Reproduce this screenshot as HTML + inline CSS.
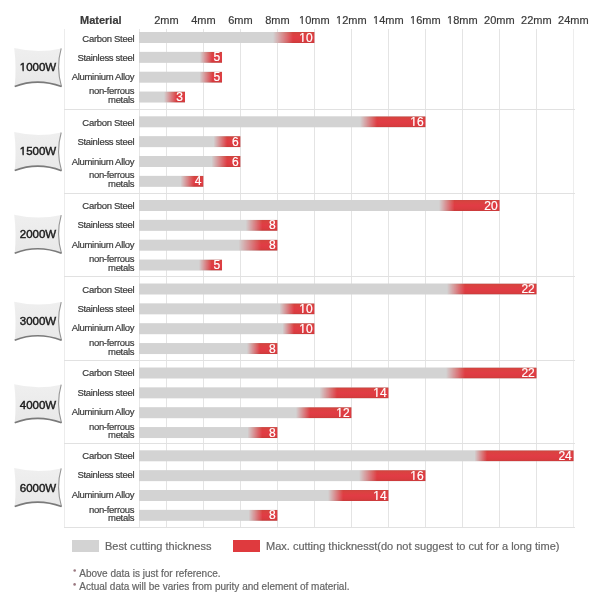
<!DOCTYPE html>
<html><head><meta charset="utf-8"><style>
html,body{margin:0;padding:0;background:#fff;}
body{width:600px;height:600px;position:relative;overflow:hidden;font-family:"Liberation Sans",sans-serif;}
#wrap{position:absolute;left:0;top:0;width:600px;height:600px;filter:blur(0.35px);}
.lay{position:absolute;left:0;top:0;}
#txt{position:absolute;left:0;top:0;width:600px;height:600px;will-change:transform;}
.t{position:absolute;white-space:nowrap;color:#3a3a3a;-webkit-text-stroke:0.2px currentColor;}
.b{font-weight:bold;}
.c{text-align:center;}
.r{text-align:right;}
.v{color:#fff;}
.bt{color:#1c1c1c;-webkit-text-stroke:0.45px #1c1c1c;}
.lg{color:#666;}
.ast{color:#d04a5a;}
</style></head><body><div id="wrap">
<svg class="lay" width="600" height="600" viewBox="0 0 600 600"><defs><linearGradient id="vred" x1="0" y1="0" x2="0" y2="1"><stop offset="0" stop-color="#cc4440"/><stop offset="0.18" stop-color="#da4240"/><stop offset="0.5" stop-color="#e13c45"/><stop offset="0.82" stop-color="#da3c40"/><stop offset="1" stop-color="#c83a3a"/></linearGradient><linearGradient id="bdg" x1="0" y1="0" x2="0" y2="1"><stop offset="0" stop-color="#efefef"/><stop offset="1" stop-color="#e8e8e8"/></linearGradient></defs><rect x="64" y="29" width="1" height="499" fill="#ececec"/>
<rect x="139" y="29" width="1" height="499" fill="#e6e6e6"/>
<rect x="166" y="29" width="1" height="499" fill="#e4e4e4"/>
<rect x="203" y="29" width="1" height="499" fill="#e4e4e4"/>
<rect x="240" y="29" width="1" height="499" fill="#e4e4e4"/>
<rect x="277" y="29" width="1" height="499" fill="#e4e4e4"/>
<rect x="314" y="29" width="1" height="499" fill="#e4e4e4"/>
<rect x="351" y="29" width="1" height="499" fill="#e4e4e4"/>
<rect x="388" y="29" width="1" height="499" fill="#e4e4e4"/>
<rect x="425" y="29" width="1" height="499" fill="#e4e4e4"/>
<rect x="462" y="29" width="1" height="499" fill="#e4e4e4"/>
<rect x="499" y="29" width="1" height="499" fill="#e4e4e4"/>
<rect x="536" y="29" width="1" height="499" fill="#e4e4e4"/>
<rect x="573" y="29" width="1" height="499" fill="#ededed"/>
<rect x="64" y="109" width="511" height="1" fill="#e1e1e1"/>
<linearGradient id="g1" gradientUnits="userSpaceOnUse" x1="273" y1="0" x2="293" y2="0"><stop offset="0" stop-color="#fff" stop-opacity="0"/><stop offset="1" stop-color="#fff" stop-opacity="1"/></linearGradient><mask id="m1" maskUnits="userSpaceOnUse" x="0" y="0" width="600" height="600"><rect x="273" y="32.00" width="41.60" height="11" fill="url(#g1)"/></mask>
<rect x="139" y="32.00" width="175.60" height="11" fill="#d3d3d3"/>
<rect x="273" y="32.00" width="41.60" height="11" fill="url(#vred)" mask="url(#m1)"/>
<linearGradient id="g2" gradientUnits="userSpaceOnUse" x1="200" y1="0" x2="212" y2="0"><stop offset="0" stop-color="#fff" stop-opacity="0"/><stop offset="1" stop-color="#fff" stop-opacity="1"/></linearGradient><mask id="m2" maskUnits="userSpaceOnUse" x="0" y="0" width="600" height="600"><rect x="200" y="51.85" width="22.05" height="11" fill="url(#g2)"/></mask>
<rect x="139" y="51.85" width="83.05" height="11" fill="#d3d3d3"/>
<rect x="200" y="51.85" width="22.05" height="11" fill="url(#vred)" mask="url(#m2)"/>
<linearGradient id="g3" gradientUnits="userSpaceOnUse" x1="199.5" y1="0" x2="212.5" y2="0"><stop offset="0" stop-color="#fff" stop-opacity="0"/><stop offset="1" stop-color="#fff" stop-opacity="1"/></linearGradient><mask id="m3" maskUnits="userSpaceOnUse" x="0" y="0" width="600" height="600"><rect x="199.5" y="71.70" width="22.55" height="11" fill="url(#g3)"/></mask>
<rect x="139" y="71.70" width="83.05" height="11" fill="#d3d3d3"/>
<rect x="199.5" y="71.70" width="22.55" height="11" fill="url(#vred)" mask="url(#m3)"/>
<linearGradient id="g4" gradientUnits="userSpaceOnUse" x1="164" y1="0" x2="176.5" y2="0"><stop offset="0" stop-color="#fff" stop-opacity="0"/><stop offset="1" stop-color="#fff" stop-opacity="1"/></linearGradient><mask id="m4" maskUnits="userSpaceOnUse" x="0" y="0" width="600" height="600"><rect x="164" y="91.55" width="21.03" height="11" fill="url(#g4)"/></mask>
<rect x="139" y="91.55" width="46.03" height="11" fill="#d3d3d3"/>
<rect x="164" y="91.55" width="21.03" height="11" fill="url(#vred)" mask="url(#m4)"/>
<path d="M14.20,48.00 Q37.60,53.60 61.20,48.40 Q55.80,67.50 61.50,86.60 Q37.70,77.60 14.70,86.50 Q16.60,67.20 14.20,48.00 Z" fill="url(#bdg)"/>
<path d="M61.20,48.40 Q55.80,67.50 61.50,86.60" fill="none" stroke="#959595" stroke-width="1.1"/>
<path d="M61.50,86.60 Q37.70,77.60 14.70,86.50" fill="none" stroke="#7a7a7a" stroke-width="1.6"/>
<rect x="64" y="193" width="511" height="1" fill="#e1e1e1"/>
<linearGradient id="g5" gradientUnits="userSpaceOnUse" x1="360" y1="0" x2="377" y2="0"><stop offset="0" stop-color="#fff" stop-opacity="0"/><stop offset="1" stop-color="#fff" stop-opacity="1"/></linearGradient><mask id="m5" maskUnits="userSpaceOnUse" x="0" y="0" width="600" height="600"><rect x="360" y="116.30" width="65.66" height="11" fill="url(#g5)"/></mask>
<rect x="139" y="116.30" width="286.66" height="11" fill="#d3d3d3"/>
<rect x="360" y="116.30" width="65.66" height="11" fill="url(#vred)" mask="url(#m5)"/>
<linearGradient id="g6" gradientUnits="userSpaceOnUse" x1="213.5" y1="0" x2="227" y2="0"><stop offset="0" stop-color="#fff" stop-opacity="0"/><stop offset="1" stop-color="#fff" stop-opacity="1"/></linearGradient><mask id="m6" maskUnits="userSpaceOnUse" x="0" y="0" width="600" height="600"><rect x="213.5" y="136.15" width="27.06" height="11" fill="url(#g6)"/></mask>
<rect x="139" y="136.15" width="101.56" height="11" fill="#d3d3d3"/>
<rect x="213.5" y="136.15" width="27.06" height="11" fill="url(#vred)" mask="url(#m6)"/>
<linearGradient id="g7" gradientUnits="userSpaceOnUse" x1="211.5" y1="0" x2="227" y2="0"><stop offset="0" stop-color="#fff" stop-opacity="0"/><stop offset="1" stop-color="#fff" stop-opacity="1"/></linearGradient><mask id="m7" maskUnits="userSpaceOnUse" x="0" y="0" width="600" height="600"><rect x="211.5" y="156.00" width="29.06" height="11" fill="url(#g7)"/></mask>
<rect x="139" y="156.00" width="101.56" height="11" fill="#d3d3d3"/>
<rect x="211.5" y="156.00" width="29.06" height="11" fill="url(#vred)" mask="url(#m7)"/>
<linearGradient id="g8" gradientUnits="userSpaceOnUse" x1="180.5" y1="0" x2="194" y2="0"><stop offset="0" stop-color="#fff" stop-opacity="0"/><stop offset="1" stop-color="#fff" stop-opacity="1"/></linearGradient><mask id="m8" maskUnits="userSpaceOnUse" x="0" y="0" width="600" height="600"><rect x="180.5" y="175.85" width="23.04" height="11" fill="url(#g8)"/></mask>
<rect x="139" y="175.85" width="64.54" height="11" fill="#d3d3d3"/>
<rect x="180.5" y="175.85" width="23.04" height="11" fill="url(#vred)" mask="url(#m8)"/>
<path d="M14.20,132.10 Q37.60,137.70 61.20,132.50 Q55.80,151.60 61.50,170.70 Q37.70,161.70 14.70,170.60 Q16.60,151.30 14.20,132.10 Z" fill="url(#bdg)"/>
<path d="M61.20,132.50 Q55.80,151.60 61.50,170.70" fill="none" stroke="#959595" stroke-width="1.1"/>
<path d="M61.50,170.70 Q37.70,161.70 14.70,170.60" fill="none" stroke="#7a7a7a" stroke-width="1.6"/>
<rect x="64" y="276" width="511" height="1" fill="#e1e1e1"/>
<linearGradient id="g9" gradientUnits="userSpaceOnUse" x1="439" y1="0" x2="454.5" y2="0"><stop offset="0" stop-color="#fff" stop-opacity="0"/><stop offset="1" stop-color="#fff" stop-opacity="1"/></linearGradient><mask id="m9" maskUnits="userSpaceOnUse" x="0" y="0" width="600" height="600"><rect x="439" y="200.00" width="60.70" height="11" fill="url(#g9)"/></mask>
<rect x="139" y="200.00" width="360.70" height="11" fill="#d3d3d3"/>
<rect x="439" y="200.00" width="60.70" height="11" fill="url(#vred)" mask="url(#m9)"/>
<linearGradient id="g10" gradientUnits="userSpaceOnUse" x1="245.8" y1="0" x2="262.3" y2="0"><stop offset="0" stop-color="#fff" stop-opacity="0"/><stop offset="1" stop-color="#fff" stop-opacity="1"/></linearGradient><mask id="m10" maskUnits="userSpaceOnUse" x="0" y="0" width="600" height="600"><rect x="245.8" y="219.85" width="31.78" height="11" fill="url(#g10)"/></mask>
<rect x="139" y="219.85" width="138.58" height="11" fill="#d3d3d3"/>
<rect x="245.8" y="219.85" width="31.78" height="11" fill="url(#vred)" mask="url(#m10)"/>
<linearGradient id="g11" gradientUnits="userSpaceOnUse" x1="238.5" y1="0" x2="261" y2="0"><stop offset="0" stop-color="#fff" stop-opacity="0"/><stop offset="1" stop-color="#fff" stop-opacity="1"/></linearGradient><mask id="m11" maskUnits="userSpaceOnUse" x="0" y="0" width="600" height="600"><rect x="238.5" y="239.70" width="39.08" height="11" fill="url(#g11)"/></mask>
<rect x="139" y="239.70" width="138.58" height="11" fill="#d3d3d3"/>
<rect x="238.5" y="239.70" width="39.08" height="11" fill="url(#vred)" mask="url(#m11)"/>
<linearGradient id="g12" gradientUnits="userSpaceOnUse" x1="199" y1="0" x2="211.5" y2="0"><stop offset="0" stop-color="#fff" stop-opacity="0"/><stop offset="1" stop-color="#fff" stop-opacity="1"/></linearGradient><mask id="m12" maskUnits="userSpaceOnUse" x="0" y="0" width="600" height="600"><rect x="199" y="259.55" width="23.05" height="11" fill="url(#g12)"/></mask>
<rect x="139" y="259.55" width="83.05" height="11" fill="#d3d3d3"/>
<rect x="199" y="259.55" width="23.05" height="11" fill="url(#vred)" mask="url(#m12)"/>
<path d="M14.20,214.70 Q37.60,220.30 61.20,215.10 Q55.80,234.20 61.50,253.30 Q37.70,244.30 14.70,253.20 Q16.60,233.90 14.20,214.70 Z" fill="url(#bdg)"/>
<path d="M61.20,215.10 Q55.80,234.20 61.50,253.30" fill="none" stroke="#959595" stroke-width="1.1"/>
<path d="M61.50,253.30 Q37.70,244.30 14.70,253.20" fill="none" stroke="#7a7a7a" stroke-width="1.6"/>
<rect x="64" y="360" width="511" height="1" fill="#e1e1e1"/>
<linearGradient id="g13" gradientUnits="userSpaceOnUse" x1="447" y1="0" x2="465" y2="0"><stop offset="0" stop-color="#fff" stop-opacity="0"/><stop offset="1" stop-color="#fff" stop-opacity="1"/></linearGradient><mask id="m13" maskUnits="userSpaceOnUse" x="0" y="0" width="600" height="600"><rect x="447" y="283.50" width="89.72" height="11" fill="url(#g13)"/></mask>
<rect x="139" y="283.50" width="397.72" height="11" fill="#d3d3d3"/>
<rect x="447" y="283.50" width="89.72" height="11" fill="url(#vred)" mask="url(#m13)"/>
<linearGradient id="g14" gradientUnits="userSpaceOnUse" x1="279.5" y1="0" x2="294" y2="0"><stop offset="0" stop-color="#fff" stop-opacity="0"/><stop offset="1" stop-color="#fff" stop-opacity="1"/></linearGradient><mask id="m14" maskUnits="userSpaceOnUse" x="0" y="0" width="600" height="600"><rect x="279.5" y="303.35" width="35.10" height="11" fill="url(#g14)"/></mask>
<rect x="139" y="303.35" width="175.60" height="11" fill="#d3d3d3"/>
<rect x="279.5" y="303.35" width="35.10" height="11" fill="url(#vred)" mask="url(#m14)"/>
<linearGradient id="g15" gradientUnits="userSpaceOnUse" x1="282.5" y1="0" x2="294" y2="0"><stop offset="0" stop-color="#fff" stop-opacity="0"/><stop offset="1" stop-color="#fff" stop-opacity="1"/></linearGradient><mask id="m15" maskUnits="userSpaceOnUse" x="0" y="0" width="600" height="600"><rect x="282.5" y="323.20" width="32.10" height="11" fill="url(#g15)"/></mask>
<rect x="139" y="323.20" width="175.60" height="11" fill="#d3d3d3"/>
<rect x="282.5" y="323.20" width="32.10" height="11" fill="url(#vred)" mask="url(#m15)"/>
<linearGradient id="g16" gradientUnits="userSpaceOnUse" x1="247" y1="0" x2="260" y2="0"><stop offset="0" stop-color="#fff" stop-opacity="0"/><stop offset="1" stop-color="#fff" stop-opacity="1"/></linearGradient><mask id="m16" maskUnits="userSpaceOnUse" x="0" y="0" width="600" height="600"><rect x="247" y="343.05" width="30.58" height="11" fill="url(#g16)"/></mask>
<rect x="139" y="343.05" width="138.58" height="11" fill="#d3d3d3"/>
<rect x="247" y="343.05" width="30.58" height="11" fill="url(#vred)" mask="url(#m16)"/>
<path d="M14.20,301.70 Q37.60,307.30 61.20,302.10 Q55.80,321.20 61.50,340.30 Q37.70,331.30 14.70,340.20 Q16.60,320.90 14.20,301.70 Z" fill="url(#bdg)"/>
<path d="M61.20,302.10 Q55.80,321.20 61.50,340.30" fill="none" stroke="#959595" stroke-width="1.1"/>
<path d="M61.50,340.30 Q37.70,331.30 14.70,340.20" fill="none" stroke="#7a7a7a" stroke-width="1.6"/>
<rect x="64" y="443" width="511" height="1" fill="#e1e1e1"/>
<linearGradient id="g17" gradientUnits="userSpaceOnUse" x1="446" y1="0" x2="465" y2="0"><stop offset="0" stop-color="#fff" stop-opacity="0"/><stop offset="1" stop-color="#fff" stop-opacity="1"/></linearGradient><mask id="m17" maskUnits="userSpaceOnUse" x="0" y="0" width="600" height="600"><rect x="446" y="367.50" width="90.72" height="11" fill="url(#g17)"/></mask>
<rect x="139" y="367.50" width="397.72" height="11" fill="#d3d3d3"/>
<rect x="446" y="367.50" width="90.72" height="11" fill="url(#vred)" mask="url(#m17)"/>
<linearGradient id="g18" gradientUnits="userSpaceOnUse" x1="319.5" y1="0" x2="337" y2="0"><stop offset="0" stop-color="#fff" stop-opacity="0"/><stop offset="1" stop-color="#fff" stop-opacity="1"/></linearGradient><mask id="m18" maskUnits="userSpaceOnUse" x="0" y="0" width="600" height="600"><rect x="319.5" y="387.35" width="69.14" height="11" fill="url(#g18)"/></mask>
<rect x="139" y="387.35" width="249.64" height="11" fill="#d3d3d3"/>
<rect x="319.5" y="387.35" width="69.14" height="11" fill="url(#vred)" mask="url(#m18)"/>
<linearGradient id="g19" gradientUnits="userSpaceOnUse" x1="296" y1="0" x2="310" y2="0"><stop offset="0" stop-color="#fff" stop-opacity="0"/><stop offset="1" stop-color="#fff" stop-opacity="1"/></linearGradient><mask id="m19" maskUnits="userSpaceOnUse" x="0" y="0" width="600" height="600"><rect x="296" y="407.20" width="55.62" height="11" fill="url(#g19)"/></mask>
<rect x="139" y="407.20" width="212.62" height="11" fill="#d3d3d3"/>
<rect x="296" y="407.20" width="55.62" height="11" fill="url(#vred)" mask="url(#m19)"/>
<linearGradient id="g20" gradientUnits="userSpaceOnUse" x1="247.5" y1="0" x2="262" y2="0"><stop offset="0" stop-color="#fff" stop-opacity="0"/><stop offset="1" stop-color="#fff" stop-opacity="1"/></linearGradient><mask id="m20" maskUnits="userSpaceOnUse" x="0" y="0" width="600" height="600"><rect x="247.5" y="427.05" width="30.08" height="11" fill="url(#g20)"/></mask>
<rect x="139" y="427.05" width="138.58" height="11" fill="#d3d3d3"/>
<rect x="247.5" y="427.05" width="30.08" height="11" fill="url(#vred)" mask="url(#m20)"/>
<path d="M14.20,384.25 Q37.60,389.85 61.20,384.65 Q55.80,403.75 61.50,422.85 Q37.70,413.85 14.70,422.75 Q16.60,403.45 14.20,384.25 Z" fill="url(#bdg)"/>
<path d="M61.20,384.65 Q55.80,403.75 61.50,422.85" fill="none" stroke="#959595" stroke-width="1.1"/>
<path d="M61.50,422.85 Q37.70,413.85 14.70,422.75" fill="none" stroke="#7a7a7a" stroke-width="1.6"/>
<rect x="64" y="527" width="511" height="1" fill="#e1e1e1"/>
<linearGradient id="g21" gradientUnits="userSpaceOnUse" x1="474.5" y1="0" x2="487" y2="0"><stop offset="0" stop-color="#fff" stop-opacity="0"/><stop offset="1" stop-color="#fff" stop-opacity="1"/></linearGradient><mask id="m21" maskUnits="userSpaceOnUse" x="0" y="0" width="600" height="600"><rect x="474.5" y="450.30" width="99.24" height="11" fill="url(#g21)"/></mask>
<rect x="139" y="450.30" width="434.74" height="11" fill="#d3d3d3"/>
<rect x="474.5" y="450.30" width="99.24" height="11" fill="url(#vred)" mask="url(#m21)"/>
<linearGradient id="g22" gradientUnits="userSpaceOnUse" x1="359" y1="0" x2="377" y2="0"><stop offset="0" stop-color="#fff" stop-opacity="0"/><stop offset="1" stop-color="#fff" stop-opacity="1"/></linearGradient><mask id="m22" maskUnits="userSpaceOnUse" x="0" y="0" width="600" height="600"><rect x="359" y="470.15" width="66.66" height="11" fill="url(#g22)"/></mask>
<rect x="139" y="470.15" width="286.66" height="11" fill="#d3d3d3"/>
<rect x="359" y="470.15" width="66.66" height="11" fill="url(#vred)" mask="url(#m22)"/>
<linearGradient id="g23" gradientUnits="userSpaceOnUse" x1="328" y1="0" x2="343" y2="0"><stop offset="0" stop-color="#fff" stop-opacity="0"/><stop offset="1" stop-color="#fff" stop-opacity="1"/></linearGradient><mask id="m23" maskUnits="userSpaceOnUse" x="0" y="0" width="600" height="600"><rect x="328" y="490.00" width="60.64" height="11" fill="url(#g23)"/></mask>
<rect x="139" y="490.00" width="249.64" height="11" fill="#d3d3d3"/>
<rect x="328" y="490.00" width="60.64" height="11" fill="url(#vred)" mask="url(#m23)"/>
<linearGradient id="g24" gradientUnits="userSpaceOnUse" x1="248.5" y1="0" x2="262.5" y2="0"><stop offset="0" stop-color="#fff" stop-opacity="0"/><stop offset="1" stop-color="#fff" stop-opacity="1"/></linearGradient><mask id="m24" maskUnits="userSpaceOnUse" x="0" y="0" width="600" height="600"><rect x="248.5" y="509.85" width="29.08" height="11" fill="url(#g24)"/></mask>
<rect x="139" y="509.85" width="138.58" height="11" fill="#d3d3d3"/>
<rect x="248.5" y="509.85" width="29.08" height="11" fill="url(#vred)" mask="url(#m24)"/>
<path d="M14.20,468.00 Q37.60,473.60 61.20,468.40 Q55.80,487.50 61.50,506.60 Q37.70,497.60 14.70,506.50 Q16.60,487.20 14.20,468.00 Z" fill="url(#bdg)"/>
<path d="M61.20,468.40 Q55.80,487.50 61.50,506.60" fill="none" stroke="#959595" stroke-width="1.1"/>
<path d="M61.50,506.60 Q37.70,497.60 14.70,506.50" fill="none" stroke="#7a7a7a" stroke-width="1.6"/>
<rect x="72" y="540" width="27" height="12" fill="#d3d3d3"/>
<rect x="233" y="540" width="27" height="12" fill="#df3a3e"/>
<ellipse cx="74.7" cy="570.5" rx="1.3" ry="1.2" fill="#9a7880"/>
<ellipse cx="74.6" cy="584.4" rx="1.3" ry="1.3" fill="#9a7880"/></svg>
<div id="txt">
<div class="t b" style="left:80px;top:15px;font-size:11px;line-height:11px">Material</div>
<div class="t c" style="left:126.40px;width:80px;top:15px;font-size:11px;line-height:11px">2mm</div>
<div class="t c" style="left:163.40px;width:80px;top:15px;font-size:11px;line-height:11px">4mm</div>
<div class="t c" style="left:200.40px;width:80px;top:15px;font-size:11px;line-height:11px">6mm</div>
<div class="t c" style="left:237.40px;width:80px;top:15px;font-size:11px;line-height:11px">8mm</div>
<div class="t c" style="left:274.40px;width:80px;top:15px;font-size:11px;line-height:11px"><span style="display:inline-block;clip-path:polygon(0 0,100% 0,100% 8.05px,0.345em 8.05px,0.345em 100%,0.245em 100%,0.245em 8.05px,0 8.05px)">1</span>0mm</div>
<div class="t c" style="left:311.40px;width:80px;top:15px;font-size:11px;line-height:11px"><span style="display:inline-block;clip-path:polygon(0 0,100% 0,100% 8.05px,0.345em 8.05px,0.345em 100%,0.245em 100%,0.245em 8.05px,0 8.05px)">1</span>2mm</div>
<div class="t c" style="left:348.40px;width:80px;top:15px;font-size:11px;line-height:11px"><span style="display:inline-block;clip-path:polygon(0 0,100% 0,100% 8.05px,0.345em 8.05px,0.345em 100%,0.245em 100%,0.245em 8.05px,0 8.05px)">1</span>4mm</div>
<div class="t c" style="left:385.40px;width:80px;top:15px;font-size:11px;line-height:11px"><span style="display:inline-block;clip-path:polygon(0 0,100% 0,100% 8.05px,0.345em 8.05px,0.345em 100%,0.245em 100%,0.245em 8.05px,0 8.05px)">1</span>6mm</div>
<div class="t c" style="left:422.40px;width:80px;top:15px;font-size:11px;line-height:11px"><span style="display:inline-block;clip-path:polygon(0 0,100% 0,100% 8.05px,0.345em 8.05px,0.345em 100%,0.245em 100%,0.245em 8.05px,0 8.05px)">1</span>8mm</div>
<div class="t c" style="left:459.40px;width:80px;top:15px;font-size:11px;line-height:11px">20mm</div>
<div class="t c" style="left:496.40px;width:80px;top:15px;font-size:11px;line-height:11px">22mm</div>
<div class="t c" style="left:533.40px;width:80px;top:15px;font-size:11px;line-height:11px">24mm</div>
<div class="t r v" style="right:287.40px;top:32px;font-size:12px;line-height:12px"><span style="display:inline-block;clip-path:polygon(0 0,100% 0,100% 9.05px,0.345em 9.05px,0.345em 100%,0.245em 100%,0.245em 9.05px,0 9.05px)">1</span>0</div>
<div class="t r" style="right:465.8px;top:34px;font-size:9.5px;line-height:9.5px;letter-spacing:-0.3px">Carbon Steel</div>
<div class="t r v" style="right:379.95px;top:51px;font-size:12px;line-height:12px">5</div>
<div class="t r" style="right:465.8px;top:53px;font-size:9.5px;line-height:9.5px;letter-spacing:-0.3px">Stainless steel</div>
<div class="t r v" style="right:379.95px;top:71px;font-size:12px;line-height:12px">5</div>
<div class="t r" style="right:465.8px;top:72px;font-size:9.5px;line-height:9.5px;letter-spacing:-0.3px">Aluminium Alloy</div>
<div class="t r v" style="right:416.97px;top:91px;font-size:12px;line-height:12px">3</div>
<div class="t r" style="right:465.8px;top:86px;font-size:9.5px;line-height:9.5px;letter-spacing:-0.3px">non-ferrous</div>
<div class="t r" style="right:465.8px;top:95px;font-size:9.5px;line-height:9.5px;letter-spacing:-0.3px">metals</div>
<div class="t c bt" style="left:8.0px;width:60px;top:62px;font-size:11.5px;line-height:11.5px"><span style="display:inline-block;clip-path:polygon(0 0,100% 0,100% 8.05px,0.345em 8.05px,0.345em 100%,0.245em 100%,0.245em 8.05px,0 8.05px)">1</span>000W</div>
<div class="t r v" style="right:176.34px;top:116px;font-size:12px;line-height:12px"><span style="display:inline-block;clip-path:polygon(0 0,100% 0,100% 9.05px,0.345em 9.05px,0.345em 100%,0.245em 100%,0.245em 9.05px,0 9.05px)">1</span>6</div>
<div class="t r" style="right:465.8px;top:118px;font-size:9.5px;line-height:9.5px;letter-spacing:-0.3px">Carbon Steel</div>
<div class="t r v" style="right:361.44px;top:136px;font-size:12px;line-height:12px">6</div>
<div class="t r" style="right:465.8px;top:137px;font-size:9.5px;line-height:9.5px;letter-spacing:-0.3px">Stainless steel</div>
<div class="t r v" style="right:361.44px;top:156px;font-size:12px;line-height:12px">6</div>
<div class="t r" style="right:465.8px;top:157px;font-size:9.5px;line-height:9.5px;letter-spacing:-0.3px">Aluminium Alloy</div>
<div class="t r v" style="right:398.46px;top:175px;font-size:12px;line-height:12px">4</div>
<div class="t r" style="right:465.8px;top:170px;font-size:9.5px;line-height:9.5px;letter-spacing:-0.3px">non-ferrous</div>
<div class="t r" style="right:465.8px;top:179px;font-size:9.5px;line-height:9.5px;letter-spacing:-0.3px">metals</div>
<div class="t c bt" style="left:8.0px;width:60px;top:146px;font-size:11.5px;line-height:11.5px"><span style="display:inline-block;clip-path:polygon(0 0,100% 0,100% 8.05px,0.345em 8.05px,0.345em 100%,0.245em 100%,0.245em 8.05px,0 8.05px)">1</span>500W</div>
<div class="t r v" style="right:102.30px;top:200px;font-size:12px;line-height:12px">20</div>
<div class="t r" style="right:465.8px;top:201px;font-size:9.5px;line-height:9.5px;letter-spacing:-0.3px">Carbon Steel</div>
<div class="t r v" style="right:324.42px;top:219px;font-size:12px;line-height:12px">8</div>
<div class="t r" style="right:465.8px;top:220px;font-size:9.5px;line-height:9.5px;letter-spacing:-0.3px">Stainless steel</div>
<div class="t r v" style="right:324.42px;top:239px;font-size:12px;line-height:12px">8</div>
<div class="t r" style="right:465.8px;top:240px;font-size:9.5px;line-height:9.5px;letter-spacing:-0.3px">Aluminium Alloy</div>
<div class="t r v" style="right:379.95px;top:259px;font-size:12px;line-height:12px">5</div>
<div class="t r" style="right:465.8px;top:254px;font-size:9.5px;line-height:9.5px;letter-spacing:-0.3px">non-ferrous</div>
<div class="t r" style="right:465.8px;top:263px;font-size:9.5px;line-height:9.5px;letter-spacing:-0.3px">metals</div>
<div class="t c bt" style="left:8.0px;width:60px;top:229px;font-size:11.5px;line-height:11.5px">2000W</div>
<div class="t r v" style="right:65.28px;top:283px;font-size:12px;line-height:12px">22</div>
<div class="t r" style="right:465.8px;top:285px;font-size:9.5px;line-height:9.5px;letter-spacing:-0.3px">Carbon Steel</div>
<div class="t r v" style="right:287.40px;top:303px;font-size:12px;line-height:12px"><span style="display:inline-block;clip-path:polygon(0 0,100% 0,100% 9.05px,0.345em 9.05px,0.345em 100%,0.245em 100%,0.245em 9.05px,0 9.05px)">1</span>0</div>
<div class="t r" style="right:465.8px;top:304px;font-size:9.5px;line-height:9.5px;letter-spacing:-0.3px">Stainless steel</div>
<div class="t r v" style="right:287.40px;top:323px;font-size:12px;line-height:12px"><span style="display:inline-block;clip-path:polygon(0 0,100% 0,100% 9.05px,0.345em 9.05px,0.345em 100%,0.245em 100%,0.245em 9.05px,0 9.05px)">1</span>0</div>
<div class="t r" style="right:465.8px;top:323px;font-size:9.5px;line-height:9.5px;letter-spacing:-0.3px">Aluminium Alloy</div>
<div class="t r v" style="right:324.42px;top:343px;font-size:12px;line-height:12px">8</div>
<div class="t r" style="right:465.8px;top:338px;font-size:9.5px;line-height:9.5px;letter-spacing:-0.3px">non-ferrous</div>
<div class="t r" style="right:465.8px;top:347px;font-size:9.5px;line-height:9.5px;letter-spacing:-0.3px">metals</div>
<div class="t c bt" style="left:8.0px;width:60px;top:316px;font-size:11.5px;line-height:11.5px">3000W</div>
<div class="t r v" style="right:65.28px;top:367px;font-size:12px;line-height:12px">22</div>
<div class="t r" style="right:465.8px;top:368px;font-size:9.5px;line-height:9.5px;letter-spacing:-0.3px">Carbon Steel</div>
<div class="t r v" style="right:213.36px;top:387px;font-size:12px;line-height:12px"><span style="display:inline-block;clip-path:polygon(0 0,100% 0,100% 9.05px,0.345em 9.05px,0.345em 100%,0.245em 100%,0.245em 9.05px,0 9.05px)">1</span>4</div>
<div class="t r" style="right:465.8px;top:388px;font-size:9.5px;line-height:9.5px;letter-spacing:-0.3px">Stainless steel</div>
<div class="t r v" style="right:250.38px;top:407px;font-size:12px;line-height:12px"><span style="display:inline-block;clip-path:polygon(0 0,100% 0,100% 9.05px,0.345em 9.05px,0.345em 100%,0.245em 100%,0.245em 9.05px,0 9.05px)">1</span>2</div>
<div class="t r" style="right:465.8px;top:407px;font-size:9.5px;line-height:9.5px;letter-spacing:-0.3px">Aluminium Alloy</div>
<div class="t r v" style="right:324.42px;top:427px;font-size:12px;line-height:12px">8</div>
<div class="t r" style="right:465.8px;top:422px;font-size:9.5px;line-height:9.5px;letter-spacing:-0.3px">non-ferrous</div>
<div class="t r" style="right:465.8px;top:430px;font-size:9.5px;line-height:9.5px;letter-spacing:-0.3px">metals</div>
<div class="t c bt" style="left:8.0px;width:60px;top:400px;font-size:11.5px;line-height:11.5px">4000W</div>
<div class="t r v" style="right:28.26px;top:450px;font-size:12px;line-height:12px">24</div>
<div class="t r" style="right:465.8px;top:451px;font-size:9.5px;line-height:9.5px;letter-spacing:-0.3px">Carbon Steel</div>
<div class="t r v" style="right:176.34px;top:470px;font-size:12px;line-height:12px"><span style="display:inline-block;clip-path:polygon(0 0,100% 0,100% 9.05px,0.345em 9.05px,0.345em 100%,0.245em 100%,0.245em 9.05px,0 9.05px)">1</span>6</div>
<div class="t r" style="right:465.8px;top:470px;font-size:9.5px;line-height:9.5px;letter-spacing:-0.3px">Stainless steel</div>
<div class="t r v" style="right:213.36px;top:490px;font-size:12px;line-height:12px"><span style="display:inline-block;clip-path:polygon(0 0,100% 0,100% 9.05px,0.345em 9.05px,0.345em 100%,0.245em 100%,0.245em 9.05px,0 9.05px)">1</span>4</div>
<div class="t r" style="right:465.8px;top:490px;font-size:9.5px;line-height:9.5px;letter-spacing:-0.3px">Aluminium Alloy</div>
<div class="t r v" style="right:324.42px;top:509px;font-size:12px;line-height:12px">8</div>
<div class="t r" style="right:465.8px;top:505px;font-size:9.5px;line-height:9.5px;letter-spacing:-0.3px">non-ferrous</div>
<div class="t r" style="right:465.8px;top:513px;font-size:9.5px;line-height:9.5px;letter-spacing:-0.3px">metals</div>
<div class="t c bt" style="left:8.0px;width:60px;top:483px;font-size:11.5px;line-height:11.5px">6000W</div>
<div class="t lg" style="left:105px;top:541px;font-size:11px;line-height:11px">Best cutting thickness</div>
<div class="t lg" style="left:266px;top:541px;font-size:11px;line-height:11px">Max. cutting thicknesst(do not suggest to cut for a long time)</div>
<div class="t lg" style="left:79.3px;top:569px;font-size:10px;line-height:10px">Above data is just for reference.</div>
<div class="t lg" style="left:79.3px;top:582px;font-size:10px;line-height:10px">Actual data will be varies from purity and element of material.</div>
</div>
</div></body></html>
